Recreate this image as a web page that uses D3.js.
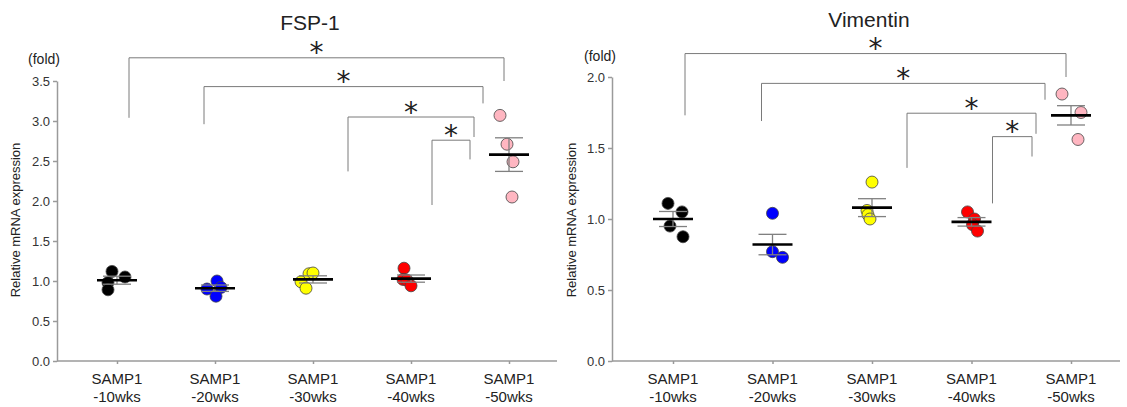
<!DOCTYPE html>
<html>

<head>
    <meta charset="utf-8">
    <title>FSP-1 / Vimentin</title>
    <script type="text/javascript" src="https://cdnjs.cloudflare.com/ajax/libs/d3/7.8.5/d3.min.js"></script>
    <style>
        body {
            margin: 0;
            background: #fff;
        }

        svg text {
            font-family: "Liberation Sans", Arial, sans-serif;
            fill: #222;
        }

        .axis path,
        .axis line {
            stroke: #9a9a9a;
            stroke-width: 1.5px;
        }

        .axis text {
            font-size: 13px;
            fill: #333;
        }

        .bracket {
            fill: none;
            stroke: #7a7a7a;
            stroke-width: 1px;
        }

        .sem {
            stroke: #808080;
            stroke-width: 1.3px;
        }

        .mean {
            stroke: #000;
            stroke-width: 2.6px;
        }

        .dot {
            stroke: #444;
            stroke-width: 0.8px;
        }
    </style>
</head>

<body>
    <div id="chart"></div>

    <script type="text/javascript">
        // groups
        const strain = "SAMP1";
        const categories = ["-10wks", "-20wks", "-30wks", "-40wks", "-50wks"];
        const colors = ["#000000", "#0000ff", "#ffff00", "#ff0000", "#ffb6c1"];

        // FSP-1 (fold)
        const fspPoints = [
            [1.12, 1.05, 0.98, 0.89],
            [0.90, 1.00, 0.92, 0.81],
            [0.99, 1.09, 1.10, 0.91],
            [1.16, 1.02, 1.01, 0.94],
            [3.07, 2.71, 2.49, 2.05]
        ];
        const fspMean = [1.01, 0.91, 1.02, 1.03, 2.58];
        const fspSem = [0.05, 0.04, 0.045, 0.045, 0.21];
        const fspTicks = [0, 0.5, 1.0, 1.5, 2.0, 2.5, 3.0, 3.5];
        // significance: compared group, top of bracket, left leg end, right leg end
        const fspSig = [
            { from: 0, to: 4, top: 3.79, left: 3.04, right: 3.50 },
            { from: 1, to: 4, top: 3.43, left: 2.96, right: 3.22 },
            { from: 2, to: 4, top: 3.05, left: 2.37, right: 2.80 },
            { from: 3, to: 4, top: 2.76, left: 1.95, right: 2.52 }
        ];

        // Vimentin (fold)
        const vimPoints = [
            [1.11, 1.05, 0.95, 0.875],
            [1.04, 0.77, 0.73],
            [1.26, 1.06, 1.03, 1.00],
            [1.05, 1.00, 0.96, 0.915],
            [1.88, 1.75, 1.56]
        ];
        const vimMean = [1.00, 0.82, 1.08, 0.98, 1.73];
        const vimSem = [0.053, 0.072, 0.063, 0.03, 0.068];
        const vimTicks = [0, 0.5, 1.0, 1.5, 2.0];
        const vimSig = [
            { from: 0, to: 4, top: 2.165, left: 1.73, right: 2.00 },
            { from: 1, to: 4, top: 1.955, left: 1.69, right: 1.84 },
            { from: 2, to: 4, top: 1.745, left: 1.36, right: 1.60 },
            { from: 3, to: 4, top: 1.58, left: 1.11, right: 1.44 }
        ];

        // layout (px)
        var width = 1127, height = 407;
        var jitterFsp = [[-5, 8, -9, -9], [-8, 2, 6, 1], [-12, -4, 0, -7], [-7, -8, -4, 0], [-9, -2, 4, 3]];
        var jitterVim = [[-5, 9, -3, 10], [0, 0, 10], [0, -5, -4, -2], [-4, 3, 1, 6], [-9, 10, 7]];
        var legLeft = [12, -11, 35, 21], legRight = [-5, -26, -35, -39];

        var svg = d3.select("#chart").append("svg")
            .attr("width", width)
            .attr("height", height);

        var panels = [
            {
                title: "FSP-1", titleX: 310, titleY: 30,
                axisX: 57, axisEnd: 557, xFirst: 117, xLast: 509,
                yMax: 3.5, yTop: 81, ticks: fspTicks,
                points: fspPoints, mean: fspMean, sem: fspSem, sig: fspSig, jitter: jitterFsp,
                foldX: 44, foldY: 64, labelX: 15
            },
            {
                title: "Vimentin", titleX: 869, titleY: 27,
                axisX: 612, axisEnd: 1120, xFirst: 673, xLast: 1071,
                yMax: 2.0, yTop: 77, ticks: vimTicks,
                points: vimPoints, mean: vimMean, sem: vimSem, sig: vimSig, jitter: jitterVim,
                foldX: 600, foldY: 61, labelX: 571
            }
        ];

        var yBottom = 361;

        panels.forEach(drawPanel);

        function drawPanel(p) {
            var g = svg.append("g");

            var x = d3.scalePoint()
                .domain(categories)
                .range([p.xFirst, p.xLast]);

            var y = d3.scaleLinear()
                .domain([0, p.yMax])
                .range([yBottom, p.yTop]);

            // y axis
            g.append("g")
                .attr("class", "axis")
                .attr("transform", "translate(" + p.axisX + ",0)")
                .call(d3.axisLeft(y)
                    .tickValues(p.ticks)
                    .tickFormat(d3.format(".1f"))
                    .tickSize(4)
                    .tickSizeOuter(0)
                    .tickPadding(3));

            // x axis
            var xa = g.append("g")
                .attr("class", "axis")
                .attr("transform", "translate(0," + yBottom + ")")
                .call(d3.axisBottom(x).tickSize(3).tickSizeOuter(0).tickFormat(""));
            xa.select(".domain").remove();
            xa.append("line")
                .attr("x1", p.axisX).attr("x2", p.axisEnd)
                .attr("y1", 0).attr("y2", 0);

            var lab = g.append("g").selectAll("text")
                .data(categories)
                .enter()
                .append("text")
                .attr("text-anchor", "middle")
                .style("font-size", "15px")
                .attr("x", d => x(d));
            lab.append("tspan")
                .attr("x", d => x(d))
                .attr("y", 384)
                .text(strain);
            lab.append("tspan")
                .attr("x", d => x(d))
                .attr("y", 402)
                .text(d => d);

            // titles
            g.append("text")
                .attr("x", p.titleX)
                .attr("y", p.titleY)
                .attr("text-anchor", "middle")
                .style("font-size", "21px")
                .text(p.title);

            g.append("text")
                .attr("x", p.foldX)
                .attr("y", p.foldY)
                .attr("text-anchor", "middle")
                .style("font-size", "14px")
                .text("(fold)");

            g.append("text")
                .attr("transform", "translate(" + p.labelX + "," + 220 + ")rotate(-90)")
                .attr("text-anchor", "middle")
                .attr("dy", "0.35em")
                .style("font-size", "13px")
                .text("Relative mRNA expression");

            // points
            categories.forEach((c, i) => {
                g.append("g").selectAll("circle")
                    .data(p.points[i])
                    .enter()
                    .append("circle")
                    .attr("class", "dot")
                    .attr("cx", (d, j) => x(c) + p.jitter[i][j])
                    .attr("cy", d => y(d))
                    .attr("r", 6)
                    .style("fill", colors[i]);
            });

            // mean +- sem
            var eb = g.append("g").selectAll("g")
                .data(categories)
                .enter()
                .append("g");
            eb.append("line")
                .attr("class", "sem")
                .attr("x1", d => x(d)).attr("x2", d => x(d))
                .attr("y1", (d, i) => y(p.mean[i] - p.sem[i]))
                .attr("y2", (d, i) => y(p.mean[i] + p.sem[i]));
            [-1, 1].forEach(s => {
                eb.append("line")
                    .attr("class", "sem")
                    .attr("x1", d => x(d) - 14).attr("x2", d => x(d) + 14)
                    .attr("y1", (d, i) => y(p.mean[i] + s * p.sem[i]))
                    .attr("y2", (d, i) => y(p.mean[i] + s * p.sem[i]));
            });
            eb.append("line")
                .attr("class", "mean")
                .attr("x1", d => x(d) - 20).attr("x2", d => x(d) + 20)
                .attr("y1", (d, i) => y(p.mean[i]))
                .attr("y2", (d, i) => y(p.mean[i]));

            // significance brackets
            var sg = g.append("g").selectAll("g")
                .data(p.sig)
                .enter()
                .append("g");
            sg.append("path")
                .attr("class", "bracket")
                .attr("d", (d, i) => {
                    var x1 = x(categories[d.from]) + legLeft[i],
                        x2 = x(categories[d.to]) + legRight[i];
                    return "M" + x1 + "," + y(d.left) +
                        "V" + y(d.top) + "H" + x2 + "V" + y(d.right);
                });
            sg.append("text")
                .attr("x", (d, i) => (x(categories[d.from]) + legLeft[i] + x(categories[d.to]) + legRight[i]) / 2)
                .attr("y", d => y(d.top) - 11.5 + 16)
                .attr("text-anchor", "middle")
                .style("font-family", "DejaVu Sans")
                .style("font-size", "28px")
                .text("*");
        }
    </script>
</body>

</html>
